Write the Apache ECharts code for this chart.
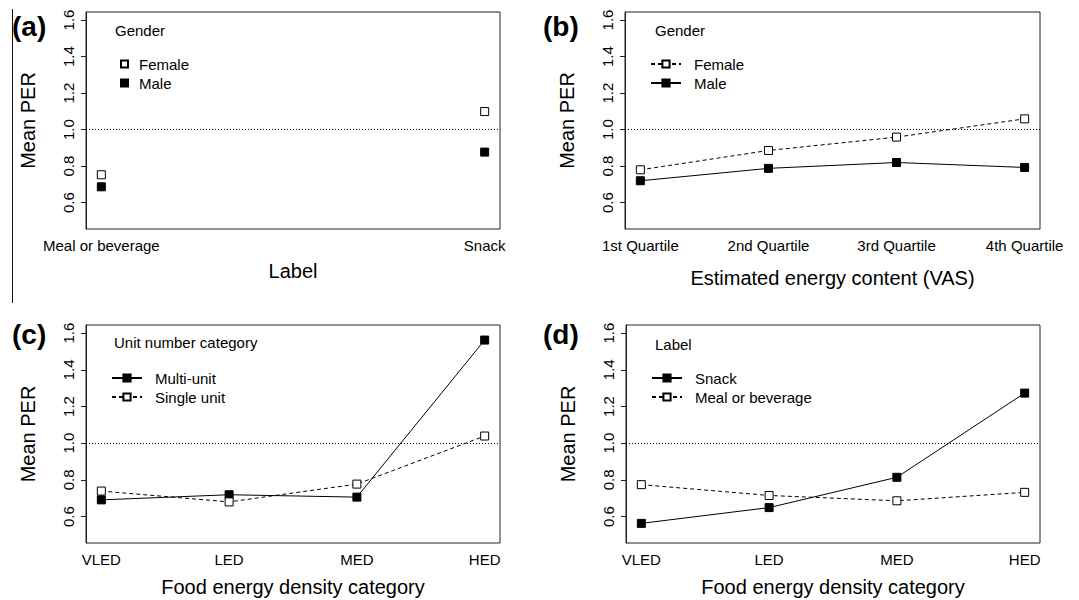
<!DOCTYPE html>
<html>
<head>
<meta charset="utf-8">
<script src="https://cdn.jsdelivr.net/npm/echarts@6/dist/echarts.min.js"></script>
<style>html,body{margin:0;padding:0;background:#fff;}#c{width:1079px;height:600px;}</style>
</head>
<body>
<div id="c"></div>
<script>
// ---- data ----
const catsA = ['Meal or beverage', 'Snack'];
const femaleA = [0.753, 1.099];
const maleA = [0.687, 0.877];

const catsB = ['1st Quartile', '2nd Quartile', '3rd Quartile', '4th Quartile'];
const femaleB = [0.780, 0.886, 0.959, 1.059];
const maleB = [0.720, 0.788, 0.820, 0.793];

const catsED = ['VLED', 'LED', 'MED', 'HED'];
const multiC = [0.691, 0.719, 0.706, 1.562];
const singleC = [0.739, 0.680, 0.777, 1.039];

const snackD = [0.563, 0.649, 0.814, 1.273];
const mealD = [0.774, 0.715, 0.686, 0.732];

const yTicks = [0.6, 0.8, 1.0, 1.2, 1.4, 1.6];
const refValue = 1.0;

// ---- helpers ----
const FONT = 'Liberation Sans, Arial, sans-serif';
const pts = arr => arr.map((v, i) => [i + 1, v]);
const sep = '|';
const grids = [
  {left: 86, top: 12, width: 414, height: 217, show: true, borderColor: '#222', borderWidth: 1, backgroundColor: 'transparent'},
  {left: 625, top: 12, width: 415, height: 217, show: true, borderColor: '#222', borderWidth: 1, backgroundColor: 'transparent'},
  {left: 86, top: 325, width: 414, height: 218, show: true, borderColor: '#222', borderWidth: 1, backgroundColor: 'transparent'},
  {left: 626, top: 325, width: 414, height: 218, show: true, borderColor: '#222', borderWidth: 1, backgroundColor: 'transparent'}
];

function xAx(idx, cats, name, gap) {
  const n = cats.length;
  const ext = (n - 1) * 0.04;
  const ticks = cats.map((c, i) => i + 1);
  return {
    type: 'value', gridIndex: idx, min: 1 - ext, max: n + ext,
    axisLine: {show: false}, axisTick: {show: false}, splitLine: {show: false},
    axisLabel: {customValues: ticks, formatter: v => cats[Math.round(v) - 1], fontSize: 15, color: '#000', margin: 9, fontFamily: FONT},
    name: name, nameLocation: 'middle', nameGap: gap,
    nameTextStyle: {fontSize: 20, color: '#000', fontFamily: FONT}
  };
}
function yAx(idx) {
  return {
    type: 'value', gridIndex: idx, min: 0.456, max: 1.644,
    axisLine: {show: true, lineStyle: {color: '#222', width: 1}},
    axisTick: {show: true, customValues: yTicks, length: 5, lineStyle: {color: '#222', width: 1}},
    splitLine: {show: false},
    axisLabel: {customValues: yTicks, rotate: 90, formatter: v => v.toFixed(1), fontSize: 15, color: '#000', margin: 10, fontFamily: FONT},
    name: 'Mean PER', nameLocation: 'middle', nameGap: 48, nameRotate: 90,
    nameTextStyle: {fontSize: 20, color: '#000', fontFamily: FONT}
  };
}
const refLine = {
  silent: true, symbol: ['none', 'none'], label: {show: false},
  lineStyle: {type: [1, 2], color: '#000', width: 1},
  emphasis: {disabled: true},
  data: [{yAxis: refValue}]
};
const openSq = {color: '#fff', borderColor: '#000', borderWidth: 1, opacity: 1};
const fillSq = {color: '#000', borderColor: '#000', borderWidth: 1, opacity: 1};
const solid = {color: '#000', width: 1, type: 'solid'};
const dashed = {color: '#000', width: 1, type: [4, 3]};

function lineSeries(panel, name, arr, idx, item, ls, withRef) {
  const s = {
    type: 'line', name: panel + sep + name, xAxisIndex: idx, yAxisIndex: idx,
    data: pts(arr), symbol: 'rect', symbolSize: 8, showSymbol: true,
    itemStyle: item, lineStyle: ls, emphasis: {disabled: true}, z: 3
  };
  if (withRef) s.markLine = refLine;
  return s;
}
function scatterSeries(panel, name, arr, idx, item, withRef) {
  const s = {
    type: 'scatter', name: panel + sep + name, xAxisIndex: idx, yAxisIndex: idx,
    data: pts(arr), symbol: 'rect', symbolSize: 8,
    itemStyle: item, emphasis: {disabled: true}, z: 3
  };
  if (withRef) s.markLine = refLine;
  return s;
}

const legendText = {fontSize: 15, color: '#000', fontFamily: FONT, padding: [0, 0, 0, 6], lineHeight: 16};
const fmt = n => n.split(sep)[1];
const titleFont = '15px ' + FONT;

const option = {
  backgroundColor: '#fff',
  animation: false,
  textStyle: {fontFamily: FONT},
  grid: grids,
  xAxis: [
    xAx(0, catsA, 'Label', 32),
    xAx(1, catsB, 'Estimated energy content (VAS)', 39),
    xAx(2, catsED, 'Food energy density category', 34),
    xAx(3, catsED, 'Food energy density category', 34)
  ],
  yAxis: [yAx(0), yAx(1), yAx(2), yAx(3)],
  legend: [
    {orient: 'vertical', left: 115, top: 51, itemWidth: 7, itemHeight: 7, itemGap: 3, selectedMode: false,
     data: ['a|Female', 'a|Male'], formatter: fmt, textStyle: legendText},
    {orient: 'vertical', left: 645, top: 51, itemWidth: 30, itemHeight: 9, itemGap: 3, selectedMode: false,
     data: ['b|Female', 'b|Male'], formatter: fmt, textStyle: Object.assign({}, legendText, {padding: [0, 0, 0, 8]})},
    {orient: 'vertical', left: 106, top: 365, itemWidth: 30, itemHeight: 9, itemGap: 3, selectedMode: false,
     data: ['c|Multi-unit', 'c|Single unit'], formatter: fmt, textStyle: Object.assign({}, legendText, {padding: [0, 0, 0, 8]})},
    {orient: 'vertical', left: 646, top: 365, itemWidth: 30, itemHeight: 9, itemGap: 3, selectedMode: false,
     data: ['d|Snack', 'd|Meal or beverage'], formatter: fmt, textStyle: Object.assign({}, legendText, {padding: [0, 0, 0, 8]})}
  ],
  graphic: [
    {type: 'line', shape: {x1: 12.5, y1: 9, x2: 12.5, y2: 303}, style: {stroke: '#111', lineWidth: 1}, silent: true},
    {type: 'text', left: 12, top: 12, style: {text: '(a)', font: 'bold 28px ' + FONT, fill: '#000'}},
    {type: 'text', left: 543, top: 12, style: {text: '(b)', font: 'bold 28px ' + FONT, fill: '#000'}},
    {type: 'text', left: 12, top: 320, style: {text: '(c)', font: 'bold 28px ' + FONT, fill: '#000'}},
    {type: 'text', left: 543, top: 320, style: {text: '(d)', font: 'bold 28px ' + FONT, fill: '#000'}},
    {type: 'text', left: 115, top: 23, style: {text: 'Gender', font: titleFont, fill: '#000'}},
    {type: 'text', left: 655, top: 23, style: {text: 'Gender', font: titleFont, fill: '#000'}},
    {type: 'text', left: 114, top: 335, style: {text: 'Unit number category', font: titleFont, fill: '#000'}},
    {type: 'text', left: 655, top: 337, style: {text: 'Label', font: titleFont, fill: '#000'}}
  ],
  series: [
    scatterSeries('a', 'Female', femaleA, 0, openSq, true),
    scatterSeries('a', 'Male', maleA, 0, fillSq, false),
    lineSeries('b', 'Female', femaleB, 1, openSq, dashed, true),
    lineSeries('b', 'Male', maleB, 1, fillSq, solid, false),
    lineSeries('c', 'Multi-unit', multiC, 2, fillSq, solid, true),
    lineSeries('c', 'Single unit', singleC, 2, openSq, dashed, false),
    lineSeries('d', 'Snack', snackD, 3, fillSq, solid, true),
    lineSeries('d', 'Meal or beverage', mealD, 3, openSq, dashed, false)
  ]
};
const chart = echarts.init(document.getElementById('c'), null, {renderer: 'svg'});
chart.setOption(option);
</script>
</body>
</html>
